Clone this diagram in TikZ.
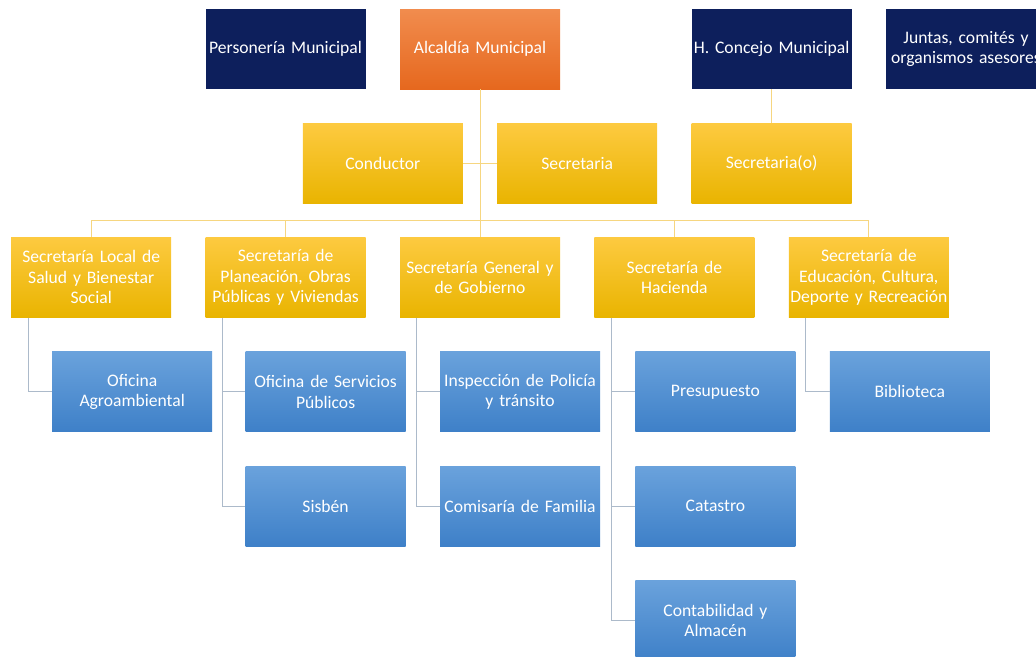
\documentclass[tikz,border=0pt]{standalone}
\usepackage{fontspec}
\setmainfont{Carlito}
\usepackage{tikz}
\usetikzlibrary{positioning}
\definecolor{navy}{RGB}{13,31,92}
\definecolor{orangetop}{RGB}{241,140,78}
\definecolor{orangebot}{RGB}{230,104,30}
\definecolor{yellowtop}{RGB}{253,202,64}
\definecolor{yellowbot}{RGB}{233,180,0}
\definecolor{bluetop}{RGB}{106,162,220}
\definecolor{bluebot}{RGB}{62,128,200}
\definecolor{yline}{RGB}{246,214,128}
\definecolor{bline}{RGB}{172,186,202}
\tikzstyle{box}=[rectangle, align=center, text=white, inner sep=0pt, text width=160pt, minimum height=80pt, font=\fontsize{17.6}{20.5}\selectfont]
\tikzstyle{ente}=[box, fill=navy]
\tikzstyle{despacho}=[box, top color=orangetop, bottom color=orangebot]
\tikzstyle{secre}=[box, top color=yellowtop, bottom color=yellowbot]
\tikzstyle{oficina}=[box, top color=bluetop, bottom color=bluebot]
\tikzstyle{ylink}=[draw=yline, line width=1pt]
\tikzstyle{blink}=[draw=bline, line width=1pt]

\begin{document}
\begin{tikzpicture}[x=1pt, y=1pt, node distance=34pt]
    \useasboundingbox (0,0) rectangle (1036,-656);
    \clip (0,0) rectangle (1036,-656);

        \node(alcaldia)[despacho] at (480,-49){
            Alcaldía Municipal
        };
        \node(personeria)[ente, left=of alcaldia]{
            Personería Municipal
        };
        \node(conductor)[secre, below left=34pt and 17pt of alcaldia.south]{
            Conductor
        };
        \node(secretaria)[secre, below right=34pt and 17pt of alcaldia.south]{
            Secretaria
        };
        \node(concejo)[ente, above right=34pt and 34pt of secretaria.north east]{
            H. Concejo Municipal
        };
        \node(juntas)[ente, right=of concejo]{
            Juntas, comités y\\ organismos asesores
        };
        \node(secretariao)[secre, below=of concejo]{
            Secretaria(o)
        };

        % secretarias
        \node(general)[secre, below=148pt of alcaldia]{
            Secretaría General y\\ de Gobierno
        };
        \node(planeacion)[secre, left=of general]{
            Secretaría de\\ Planeación, Obras\\ Públicas y Viviendas
        };
        \node(salud)[secre, left=of planeacion]{
            Secretaría Local de\\ Salud y Bienestar\\ Social
        };
        \node(hacienda)[secre, right=of general]{
            Secretaría de\\ Hacienda
        };
        \node(educacion)[secre, right=of hacienda]{
            Secretaría de\\ Educación, Cultura,\\ Deporte y Recreación
        };

        % oficinas
        \node(agro)[oficina, below right=34pt and 41pt of salud.south west]{
            Oficina\\ Agroambiental
        };
        \node(servicios)[oficina, below right=34pt and 40pt of planeacion.south west]{
            Oficina de Servicios\\ Públicos
        };
        \node(sisben)[oficina, below=of servicios]{
            Sisbén
        };
        \node(inspeccion)[oficina, below right=34pt and 40pt of general.south west]{
            Inspección de Policía\\ y tránsito
        };
        \node(comisaria)[oficina, below=of inspeccion]{
            Comisaría de Familia
        };
        \node(presupuesto)[oficina, below right=34pt and 41pt of hacienda.south west]{
            Presupuesto
        };
        \node(catastro)[oficina, below=of presupuesto]{
            Catastro
        };
        \node(contabilidad)[oficina, below=of catastro]{
            Contabilidad y\\ Almacén
        };
        \node(biblioteca)[oficina, below right=34pt and 41pt of educacion.south west]{
            Biblioteca
        };

        \coordinate[above=17pt of general.north] (bus);
        \draw[ylink] (alcaldia.south) -- (bus);
        \draw[ylink] (conductor.east) -- (secretaria.west);
        \draw[ylink] (concejo.south) -- (secretariao.north);
        \draw[ylink] (salud.north) -- ++(0,17) -| (educacion.north);
        \foreach \s in {planeacion, general, hacienda}
            \draw[ylink] (\s.north) -- ++(0,17);

        \draw[blink] ([xshift=17pt]salud.south west) |- (agro.west);
        \draw[blink] ([xshift=17pt]planeacion.south west) |- (sisben.west);
        \draw[blink] ([xshift=17pt]planeacion.south west) |- (servicios.west);
        \draw[blink] ([xshift=17pt]general.south west) |- (comisaria.west);
        \draw[blink] ([xshift=17pt]general.south west) |- (inspeccion.west);
        \draw[blink] ([xshift=17pt]hacienda.south west) |- (contabilidad.west);
        \draw[blink] ([xshift=17pt]hacienda.south west) |- (catastro.west);
        \draw[blink] ([xshift=17pt]hacienda.south west) |- (presupuesto.west);
        \draw[blink] ([xshift=17pt]educacion.south west) |- (biblioteca.west);
    \end{tikzpicture}
\end{document}
